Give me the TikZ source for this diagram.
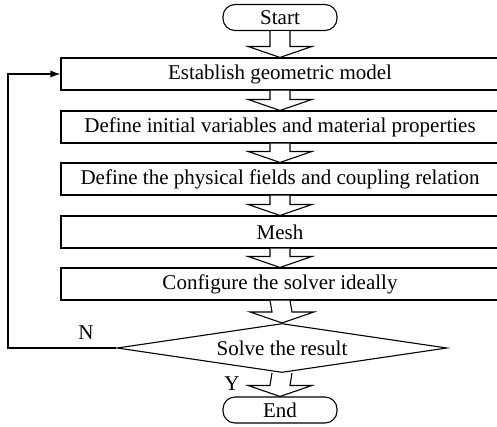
\documentclass[tikz,border=0pt]{standalone}
\usepackage{fontspec}
\setmainfont{Liberation Serif}
\usetikzlibrary{calc,arrows.meta,shapes.geometric}

\begin{document}
\begin{tikzpicture}[x=1pt,y=-1pt]

% ---------------------------------------------------------------- styles
\tikzset{
  blk/.style     = {draw, line width=1.1pt, minimum width=438pt,
                    minimum height=32pt, inner sep=0pt,
                    font=\fontsize{21}{23}\selectfont},
  term/.style    = {blk, rounded corners=12pt, minimum width=114pt,
                    minimum height=26pt},
  decide/.style  = {blk, diamond, aspect=6.8, minimum width=330pt,
                    minimum height=49pt},
  hollow/.style  = {draw, line width=1.1pt, fill=white},
  loopline/.style= {draw, line width=1.1pt, -{Latex[length=10pt,width=7pt]}},
  lbl/.style     = {font=\fontsize{21}{23}\selectfont},
}
% wide open arrow from the foot of #1 to the head of #2
\newcommand\hollowarrow[2]{%
  \draw[hollow] ($(#1.south)+(-10,0)$) -- ($(#2.north)+(-10,-11)$)
    -- ($(#2.north)+(-32,-11)$) -- (#2.north) -- ($(#2.north)+(32,-11)$)
    -- ($(#2.north)+(10,-11)$) -- ($(#1.south)+(10,0)$);}

\useasboundingbox (0,0) rectangle (497,426);

% ================================================================ nodes
\node[term]   (start) at (280,17.5) {Start};
\node[blk]    (geo)   at (280,74)   {Establish geometric model};
\node[blk]    (var)   at (280,127)  {Define initial variables and material properties};
\node[blk]    (phys)  at (280,179)  {Define the physical fields and coupling relation};
\node[blk]    (mesh)  at (280,232)  {Mesh};
\node[blk]    (solv)  at (280,284)  {Configure the solver ideally};
\node[decide] (res)   at (282,348)  {Solve the result};
\node[term]   (fin)   at (280,410)  {End};

% ------------------------------------------------------------ connectors
\hollowarrow{start}{geo}
\hollowarrow{geo}{var}
\hollowarrow{var}{phys}
\hollowarrow{phys}{mesh}
\hollowarrow{mesh}{solv}
\hollowarrow{solv}{res}
\hollowarrow{res}{fin}

% back to the model when the result fails
\coordinate (back) at (8,74);
\draw[loopline] (res.west) -| (back) -- (geo.west);
\node[lbl] at (86,333) {N};
\node[lbl] at (232,384) {Y};

\end{tikzpicture}
\end{document}
